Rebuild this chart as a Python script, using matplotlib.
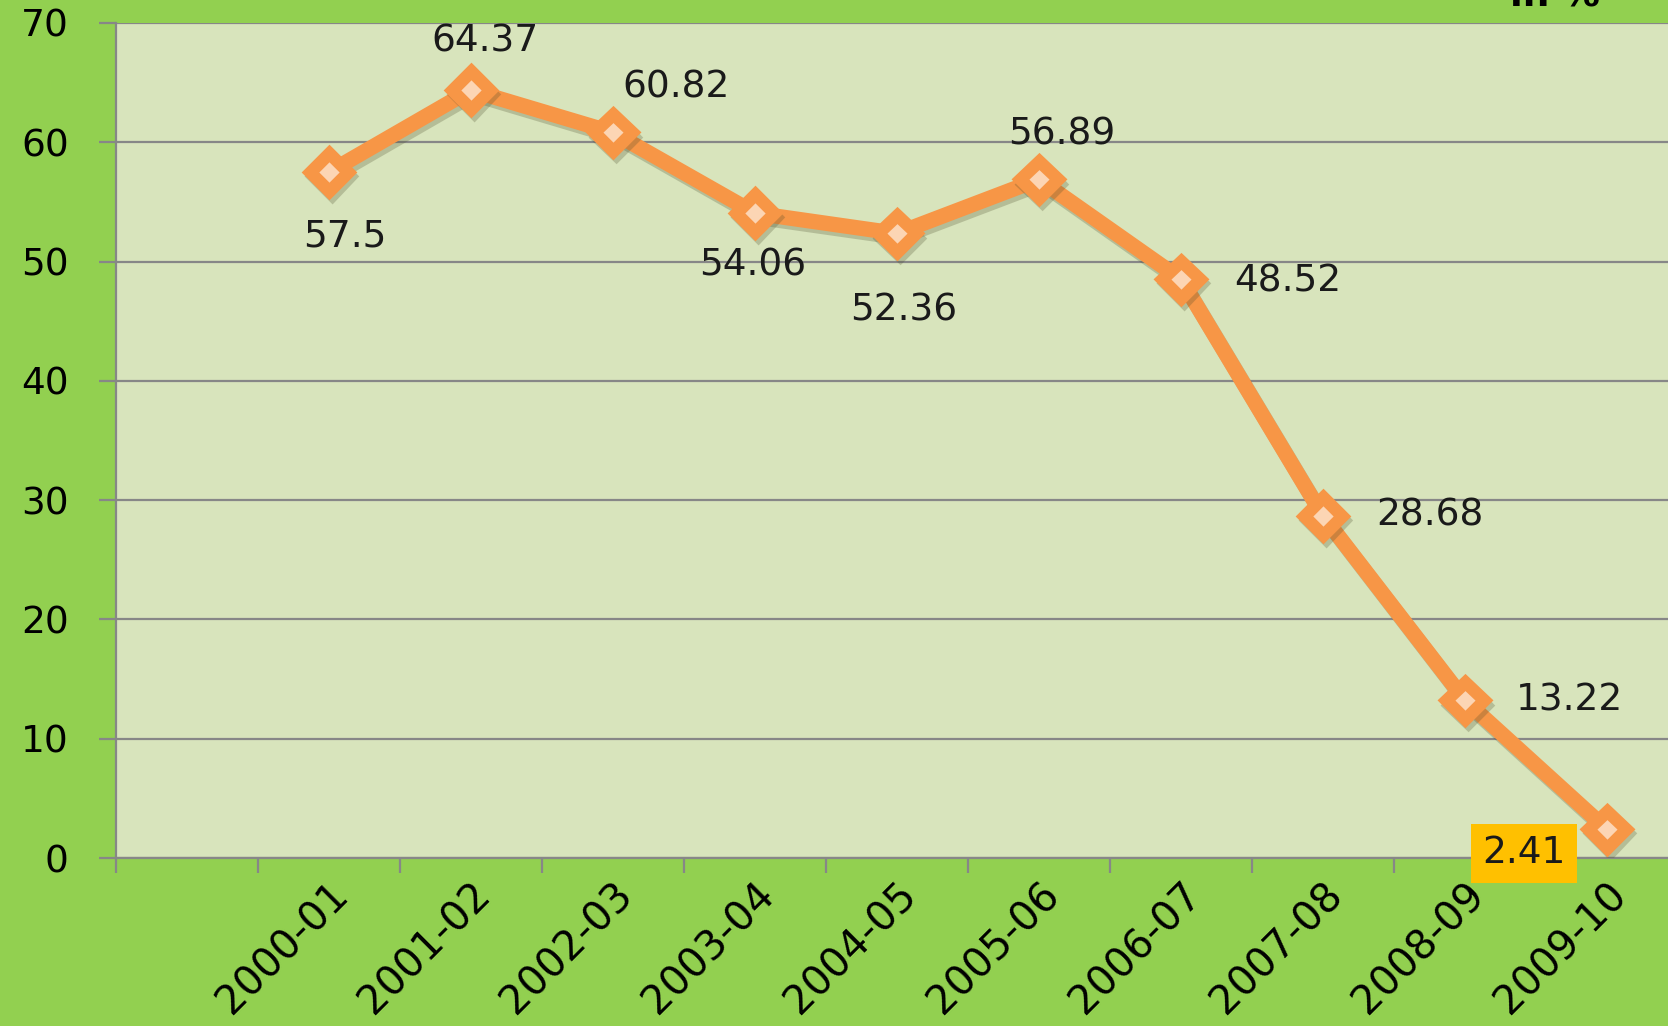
import matplotlib.pyplot as plt
from matplotlib import patheffects as pe

# datos
periodos = ["2000-01", "2001-02", "2002-03", "2003-04", "2004-05",
            "2005-06", "2006-07", "2007-08", "2008-09", "2009-10"]
valores = [57.5, 64.37, 60.82, 54.06, 52.36, 56.89, 48.52, 28.68, 13.22, 2.41]
etiquetas = ["57.5", "64.37", "60.82", "54.06", "52.36",
             "56.89", "48.52", "28.68", "13.22", "2.41"]
# desplazamiento de cada etiqueta (pixeles, respecto del punto)
desplazamientos = [(16, -64), (14, 49), (63, 45), (-2, -52), (7, -77),
                   (23, 45), (107, -2), (107, 0), (105, 0), (-83, -24)]

verde = "#92D050"
fondo = "#D8E4BC"
naranja = "#F79646"
gris = "#878787"

plt.rcParams["font.family"] = ["DejaVu Sans"]

fig = plt.figure(figsize=(16.68, 10.26), dpi=100, facecolor=verde)
ax = fig.add_axes([0.0695, 0.1637, 0.9305, 0.8139])
ax.set_facecolor(fondo)

x = list(range(len(valores)))
sombra = [pe.SimpleLineShadow(offset=(2, -3), alpha=0.25, shadow_color="#4a4a2a"), pe.Normal()]
ax.plot(x, valores, color=naranja, lw=11, solid_joinstyle="round", zorder=3,
        path_effects=sombra)
ax.plot(x, valores, ls="none", marker="D", ms=19, mfc="#FCD5B4", mec=naranja,
        mew=9, zorder=4, path_effects=sombra)

for i, (v, t) in enumerate(zip(valores, etiquetas)):
    dx, dy = desplazamientos[i]
    caja = None
    if i == len(valores) - 1:
        caja = dict(boxstyle="square,pad=0.3", fc="#FFC000", ec="none")
    ax.annotate(t, (i, v), xytext=(dx, dy), textcoords="offset pixels",
                ha="center", va="center", fontsize=27, color="#1a1a1a",
                bbox=caja, zorder=5, annotation_clip=False)

ax.set_xlim(-1.5, 9.43)
ax.set_ylim(0, 70)
ax.set_yticks(range(0, 71, 10))
ax.grid(axis="y", color=gris, lw=1.6, zorder=1)
ax.set_axisbelow(True)

# ticks mayores en los limites de categoria, etiquetas en los puntos
ax.set_xticks([i - 0.5 for i in range(-1, 10)])
ax.set_xticklabels([])
ax.set_xticks(x, minor=True)
ax.set_xticklabels(periodos, minor=True, rotation=45, ha="right",
                   rotation_mode="anchor", fontsize=29)
ax.tick_params(axis="x", which="major", length=11, width=1.6, color=gris)
ax.tick_params(axis="x", which="minor", length=0, pad=12)
ax.tick_params(axis="y", length=12, width=1.6, color=gris, pad=22, labelsize=27)

for lado in ["top", "right"]:
    ax.spines[lado].set_visible(False)
for lado in ["left", "bottom"]:
    ax.spines[lado].set_color(gris)
    ax.spines[lado].set_linewidth(1.6)

fig.text(0.905, 0.995, "in %", fontsize=27, fontweight="bold", va="baseline")

fig.savefig("out.png", dpi=100, facecolor=verde)
